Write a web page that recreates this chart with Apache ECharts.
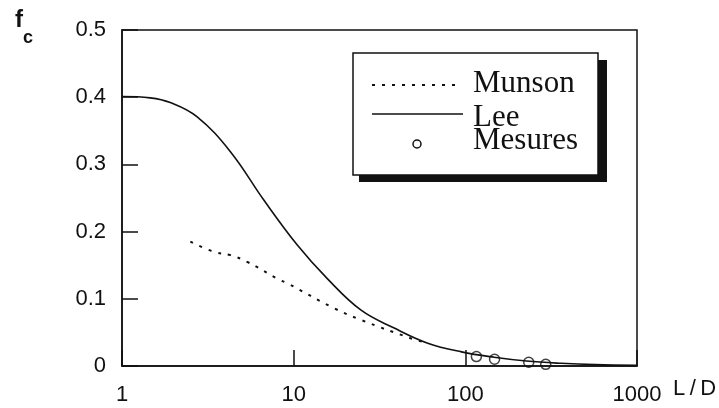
<!DOCTYPE html>
<html>
<head>
<meta charset="utf-8">
<script src="https://cdn.jsdelivr.net/npm/echarts@6/dist/echarts.min.js"></script>
<style>html,body{margin:0;padding:0;background:#fff}#c{width:719px;height:408px}</style>
</head>
<body>
<div id="c"></div>
<script>
// Lee curve
var leeX = [1, 1.46, 1.91, 2.73, 4.28, 6.7, 10.5, 15.7, 24.7, 38.5, 60.4, 95, 147, 227, 362, 570, 1000];
var leeY = [0.401, 0.399, 0.392, 0.371, 0.319, 0.247, 0.180, 0.130, 0.083, 0.0565, 0.034, 0.021, 0.013, 0.0074, 0.004, 0.002, 0.001];
// Munson curve
var munsonX = [2.5, 3.42, 4.28, 5.36, 8.03, 9.2, 17.2, 24.7, 48.4, 60];
var munsonY = [0.185, 0.170, 0.165, 0.155, 0.130, 0.123, 0.086, 0.0685, 0.041, 0.034];
// Measurements
var mesuresX = [116, 148, 234, 294];
var mesuresY = [0.014, 0.010, 0.0055, 0.0025];
// Axis ticks
var xTicks = [1, 10, 100, 1000];
var yTicks = [0, 0.1, 0.2, 0.3, 0.4, 0.5];

function pairs(xs, ys) { return xs.map(function (x, i) { return [x, ys[i]]; }); }

var chart = echarts.init(document.getElementById('c'), null, { renderer: 'canvas' });
var ink = '#111';
var sans = 'Liberation Sans, Arial, Helvetica, sans-serif';
var serif = 'Liberation Serif, Times New Roman, serif';

chart.setOption({
  animation: false,
  backgroundColor: '#fff',
  grid: { left: 122, right: 82, top: 30, bottom: 42, show: true, borderColor: ink, borderWidth: 1.5, backgroundColor: 'transparent' },
  xAxis: {
    type: 'log', logBase: 10, min: xTicks[0], max: xTicks[xTicks.length - 1],
    axisLine: { show: true, lineStyle: { color: ink, width: 1.5 } },
    axisTick: { show: true, inside: true, length: 16, lineStyle: { color: ink, width: 1.5 } },
    minorTick: { show: false },
    splitLine: { show: false },
    axisLabel: { color: ink, fontFamily: sans, fontSize: 22, margin: 18,
      formatter: function (v) { return String(Math.round(v)); } }
  },
  yAxis: {
    type: 'value', min: yTicks[0], max: yTicks[yTicks.length - 1], interval: 0.1,
    axisLine: { show: true, lineStyle: { color: ink, width: 1.5 } },
    axisTick: { show: true, inside: true, length: 16, lineStyle: { color: ink, width: 1.5 } },
    splitLine: { show: false },
    axisLabel: { color: ink, fontFamily: sans, fontSize: 22, margin: 16,
      formatter: function (v) { return v === 0 ? '0' : v.toFixed(1); } }
  },
  series: [
    { name: 'Lee', type: 'line', data: pairs(leeX, leeY), smooth: 0.4, showSymbol: false,
      lineStyle: { color: ink, width: 1.6 } },
    { name: 'Munson', type: 'line', data: pairs(munsonX, munsonY), smooth: 0.4, showSymbol: false,
      lineStyle: { color: ink, width: 2, type: [3, 7] } },
    { name: 'Mesures', type: 'scatter', data: pairs(mesuresX, mesuresY), symbol: 'circle', symbolSize: 10,
      itemStyle: { color: 'rgba(255,255,255,0)', borderColor: ink, borderWidth: 1.5 } }
  ],
  graphic: [
    { type: 'text', left: 15, top: 8, style: { text: 'f', font: 'bold 24px ' + sans, fill: ink } },
    { type: 'text', left: 23, top: 29, style: { text: 'c', font: 'bold 18px ' + sans, fill: ink } },
    { type: 'text', left: 673, top: 378, style: { text: 'L\u2009/\u2009D', font: '22px ' + sans, fill: ink } },
    // legend shadow and box
    { type: 'rect', shape: { x: 359, y: 60, width: 248, height: 122 }, style: { fill: '#111' } },
    { type: 'rect', shape: { x: 353, y: 53, width: 245, height: 122 }, style: { fill: '#fff', stroke: ink, lineWidth: 1.5 } },
    { type: 'line', shape: { x1: 372, y1: 85, x2: 460, y2: 85 }, style: { stroke: ink, lineWidth: 2, lineDash: [3, 7] } },
    { type: 'line', shape: { x1: 372, y1: 114, x2: 463, y2: 114 }, style: { stroke: ink, lineWidth: 1.6 } },
    { type: 'circle', shape: { cx: 417, cy: 144, r: 4 }, style: { fill: 'none', stroke: ink, lineWidth: 1.5 } },
    { type: 'text', x: 473, y: 84, style: { text: 'Munson', font: '31px ' + serif, fill: ink, verticalAlign: 'middle' } },
    { type: 'text', x: 473, y: 118, style: { text: 'Lee', font: '31px ' + serif, fill: ink, verticalAlign: 'middle' } },
    { type: 'text', x: 473, y: 141, style: { text: 'Mesures', font: '31px ' + serif, fill: ink, verticalAlign: 'middle' } }
  ]
});
</script>
</body>
</html>
